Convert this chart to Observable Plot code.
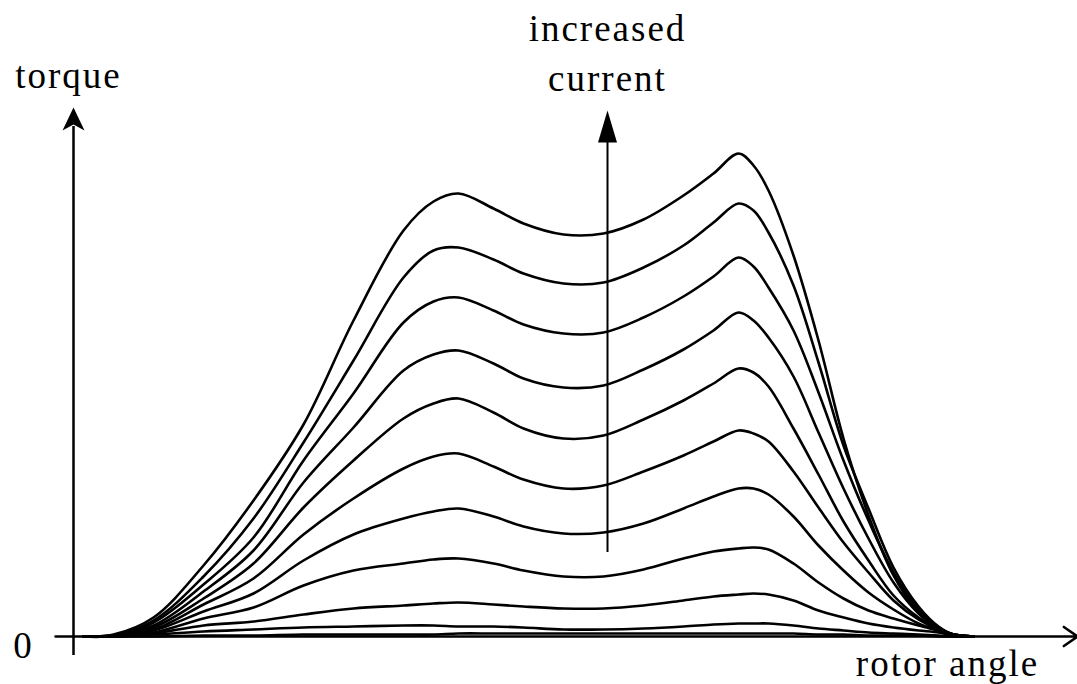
<!DOCTYPE html>
<html><head><meta charset="utf-8">
<script src="https://cdn.jsdelivr.net/npm/d3@7"></script>
<script src="https://cdn.jsdelivr.net/npm/@observablehq/plot@0.6"></script>
<style>body{margin:0;background:#fff} #chart svg{display:block}</style>
</head><body><div id="chart"></div>
<script>
// rotor angle samples (arbitrary units)
const angle = [10, 40, 80, 130, 180, 230, 280, 330, 360, 385, 420, 450, 490, 530, 570, 610, 640, 665, 680, 695, 720, 745, 770, 795, 820, 845, 865, 880, 900];

// torque curves, lowest current to highest (arbitrary units)
const torque11 = [0, 0, 0, 1, 1, 2, 2, 2, 2, 3, 3, 3, 3, 3, 3, 3, 3, 3, 3, 3, 3, 2, 2, 1, 1, 1, 0, 0, 0];
const torque10 = [0, 0, 2, 5, 7, 9, 10, 11, 11, 10, 10, 9, 7, 7, 8, 10, 12, 13, 13, 13, 11, 8, 6, 4, 3, 2, 1, 0, 0];
const torque9  = [0, 0, 3, 11, 15, 22, 28, 31, 33, 34, 32, 30, 28, 28, 31, 36, 40, 42, 43, 42, 36, 26, 19, 13, 9, 6, 4, 1, 0];
const torque8  = [0, 0, 4, 18, 29, 51, 66, 73, 77, 78, 73, 66, 60, 60, 67, 78, 85, 88, 89, 87, 73, 54, 38, 26, 18, 11, 6, 2, 0];
const torque7  = [0, 1, 6, 25, 43, 76, 102, 118, 125, 128, 120, 110, 103, 104, 113, 128, 140, 148, 148, 142, 120, 91, 66, 44, 27, 13, 6, 2, 0];
const torque6  = [0, 1, 7, 32, 58, 102, 138, 168, 180, 183, 170, 157, 148, 151, 165, 181, 195, 206, 203, 195, 165, 129, 94, 64, 36, 17, 7, 2, 0];
const torque5  = [0, 1, 9, 38, 73, 129, 176, 218, 233, 238, 224, 208, 198, 201, 217, 236, 253, 268, 264, 250, 208, 162, 115, 76, 41, 19, 7, 2, 0];
const torque4  = [0, 1, 11, 45, 86, 154, 209, 266, 282, 286, 273, 258, 249, 251, 267, 287, 306, 324, 316, 299, 260, 204, 148, 98, 54, 23, 8, 2, 0];
const torque3  = [0, 1, 14, 52, 99, 176, 243, 314, 335, 339, 326, 312, 303, 304, 319, 340, 360, 379, 370, 349, 306, 244, 176, 116, 64, 27, 9, 2, 0];
const torque2  = [0, 1, 16, 60, 118, 194, 276, 359, 386, 389, 377, 363, 353, 354, 369, 391, 414, 433, 426, 404, 351, 274, 191, 128, 69, 30, 10, 2, 0];
const torque1  = [0, 2, 19, 71, 136, 212, 316, 406, 435, 443, 428, 413, 402, 403, 417, 441, 463, 483, 471, 446, 381, 296, 198, 121, 61, 24, 7, 2, 0];

const curves = [torque11, torque10, torque9, torque8, torque7, torque6, torque5, torque4, torque3, torque2, torque1];

// annotation texts
const yLabel = "torque";
const xLabel = "rotor angle";
const zeroLabel = "0";
const arrowLabel = "increased\ncurrent";

const rows = curves.flatMap((t, i) => angle.map((a, j) => ({angle: a, torque: t[j], curve: i})));

// filled arrowheads (tip at the anchor point, pointing up)
const headNarrow = {draw(ctx) { ctx.moveTo(0, 0); ctx.lineTo(9.5, 32); ctx.lineTo(-9.5, 32); ctx.closePath(); }};
const headAxis = {draw(ctx) { ctx.moveTo(0, 0); ctx.lineTo(11, 23); ctx.lineTo(0, 17); ctx.lineTo(-11, 23); ctx.closePath(); }};

const font = {fontFamily: "Liberation Serif, Times New Roman, serif", fontSize: 37, fill: "black"};

const chart = Plot.plot({
  width: 1077,
  height: 684,
  marginLeft: 73,
  marginRight: 4,
  marginTop: 36,
  marginBottom: 48,
  style: {background: "white", letterSpacing: "2px"},
  x: {domain: [0, 1000], axis: null},
  y: {domain: [0, 600], axis: null},
  marks: [
    // axes
    Plot.ruleX([0], {y1: -19, y2: 510, stroke: "black", strokeWidth: 2.5}),
    Plot.dot([0], {x: 0, y: 529, symbol: headAxis, fill: "black", stroke: "none"}),
    Plot.arrow([0], {x1: -18, x2: 1004, y1: 0, y2: 0, stroke: "black", strokeWidth: 2.5, headLength: 10, headAngle: 70}),
    // torque curves
    Plot.line(rows, {x: "angle", y: "torque", z: "curve", stroke: "black", strokeWidth: 2.6, curve: "catmull-rom"}),
    // increased-current arrow
    Plot.ruleX([534], {y1: 84, y2: 500, stroke: "black", strokeWidth: 2}),
    Plot.dot([0], {x: 534, y: 526, symbol: headNarrow, fill: "black", stroke: "none"}),
    // labels
    Plot.text([arrowLabel], {x: 534, y: 546, text: d => d, textAnchor: "middle", lineAnchor: "bottom", lineHeight: 1.35, ...font}),
    Plot.text([yLabel], {x: -5, y: 549, text: d => d, textAnchor: "middle", lineAnchor: "bottom", ...font}),
    Plot.text([xLabel], {x: 874, y: -39, text: d => d, textAnchor: "middle", lineAnchor: "bottom", ...font}),
    Plot.text([zeroLabel], {x: -50, y: -21, text: d => d, textAnchor: "middle", lineAnchor: "bottom", ...font})
  ]
});
document.getElementById("chart").appendChild(chart);
</script>
</body></html>
